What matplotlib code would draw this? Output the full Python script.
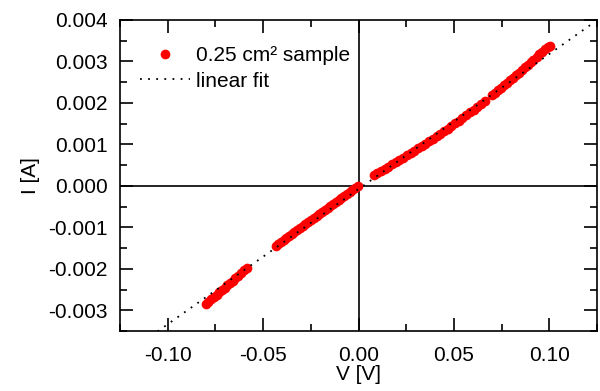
import numpy as np
import matplotlib
matplotlib.use('Agg')
import matplotlib.pyplot as plt
from matplotlib.ticker import MultipleLocator

plt.rcParams['font.family'] = ['Liberation Sans', 'DejaVu Sans']

v_a = [-0.0801, -0.0787, -0.0772, -0.0758, -0.0744, -0.0730, -0.0716, -0.0702,
       -0.0688, -0.0673, -0.0659, -0.0645, -0.0630, -0.0615, -0.0599, -0.0583]
i_a = [-0.00286, -0.00280, -0.00274, -0.00269, -0.00263, -0.00257, -0.00252, -0.00246,
       -0.00240, -0.00234, -0.00229, -0.00223, -0.00217, -0.00211, -0.00204, -0.00198]

v_b = [-0.0435, -0.0421, -0.0407, -0.0393, -0.0378, -0.0364, -0.0350, -0.0336,
       -0.0321, -0.0307, -0.0292, -0.0278, -0.0264, -0.0249, -0.0235, -0.0220,
       -0.0206, -0.0191, -0.0177, -0.0162, -0.0148, -0.0133, -0.0119, -0.0104,
       -0.0090, -0.0075, -0.0061, -0.0046, -0.0032, -0.0017, -0.0004]
i_b = [-0.00145, -0.00140, -0.00136, -0.00131, -0.00126, -0.00121, -0.00117, -0.00112,
       -0.00107, -0.00102, -0.00097, -0.00093, -0.00088, -0.00083, -0.00078, -0.00073,
       -0.00069, -0.00064, -0.00059, -0.00054, -0.00049, -0.00044, -0.00040, -0.00035,
       -0.00030, -0.00025, -0.00020, -0.00015, -0.00011, -0.00006, -0.00001]

v_c = [0.0080, 0.0098, 0.0117, 0.0137, 0.0156, 0.0176, 0.0195, 0.0214, 0.0234, 0.0253,
       0.0273, 0.0292, 0.0311, 0.0331, 0.0350, 0.0370, 0.0389, 0.0409, 0.0428, 0.0447,
       0.0467, 0.0486, 0.0505, 0.0525, 0.0544, 0.0564, 0.0583, 0.0603, 0.0622, 0.0642, 0.0663]
i_c = [0.00025, 0.00030, 0.00035, 0.00041, 0.00046, 0.00052, 0.00057, 0.00063, 0.00068, 0.00074,
       0.00080, 0.00085, 0.00091, 0.00097, 0.00102, 0.00108, 0.00113, 0.00119, 0.00126, 0.00132,
       0.00138, 0.00144, 0.00151, 0.00157, 0.00163, 0.00170, 0.00177, 0.00183, 0.00190, 0.00197, 0.00204]

v_d = [0.0700, 0.0716, 0.0731, 0.0747, 0.0762, 0.0778, 0.0793, 0.0809, 0.0824, 0.0840, 0.0855,
       0.0871, 0.0886, 0.0902, 0.0917, 0.0933, 0.0948, 0.0964, 0.0979, 0.0993, 0.1005]
i_d = [0.00218, 0.00224, 0.00230, 0.00236, 0.00242, 0.00248, 0.00254, 0.00261, 0.00267, 0.00273, 0.00279,
       0.00286, 0.00292, 0.00298, 0.00304, 0.00310, 0.00317, 0.00323, 0.00329, 0.00334, 0.00338]

# linear fit end points
fit_v = [-0.1053, 0.1237]
fit_i = [-0.00351, 0.00395]

v_all = np.concatenate([v_a, v_b, v_c, v_d])
i_all = np.concatenate([i_a, i_b, i_c, i_d])

fig = plt.figure(figsize=(6, 3.91), dpi=100)
ax = fig.add_axes([0.2, 0.1535, 0.795, 0.7955])

ax.axhline(0, color='black', lw=1.2, zorder=1)
ax.axvline(0, color='black', lw=1.2, zorder=1)

ax.plot(v_all, i_all, 'o', color='red', markersize=7, markeredgewidth=0,
        label='0.25 cm² sample', zorder=2)
ax.plot(fit_v, fit_i, color='black', lw=1.3, linestyle=(0, (1, 3.5)),
        label='linear fit', zorder=3)

ax.set_xlim(-0.125, 0.125)
ax.set_ylim(-0.0035, 0.004)
ax.xaxis.set_minor_locator(MultipleLocator(0.025))
ax.yaxis.set_minor_locator(MultipleLocator(0.0005))
ax.set_xticks([-0.10, -0.05, 0.0, 0.05, 0.10])
ax.set_xticklabels(['-0.10', '-0.05', '0.00', '0.05', '0.10'])
yt = [-0.003, -0.002, -0.001, 0.0, 0.001, 0.002, 0.003, 0.004]
ax.set_yticks(yt)
ax.set_yticklabels(['-0.003', '-0.002', '-0.001', '0.000', '0.001', '0.002', '0.003', '0.004'])

ax.tick_params(which='both', direction='in', top=True, right=True, width=1.2, labelsize=15)
ax.tick_params(axis='x', pad=11)
ax.tick_params(axis='y', pad=9)
ax.tick_params(which='major', length=9.5)
ax.tick_params(which='minor', length=5)
for s in ax.spines.values():
    s.set_linewidth(1.2)

ax.set_xlabel('V [V]', fontsize=15, labelpad=0)
ax.set_ylabel('I [A]', fontsize=15, labelpad=6)

ax.legend(loc='upper left', bbox_to_anchor=(0.042, 0.915), frameon=False, fontsize=15,
          borderpad=0, borderaxespad=0, handlelength=2.4, handletextpad=0.3,
          labelspacing=0.3, markerscale=1.0)

fig.savefig('out.png', dpi=100)
